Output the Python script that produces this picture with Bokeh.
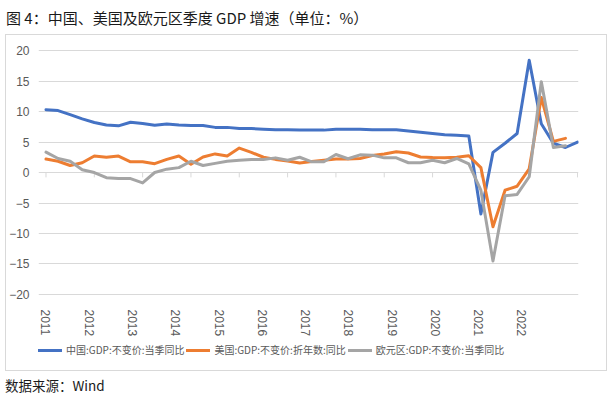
import math
from bokeh.plotting import figure
from bokeh.layouts import column
from bokeh.models import (Range1d, FixedTicker, Legend, LegendItem, Div,
                          CustomJSTickFormatter, InlineStyleSheet)
from bokeh.embed import file_html
from bokeh.resources import INLINE

# ---- data: quarterly, 2011Q1 .. 2022Q1 ----
quarters = list(range(45))
china = [10.3, 10.15, 9.5, 8.8,
         8.2, 7.8, 7.65, 8.25,
         8.05, 7.75, 7.95, 7.8,
         7.7, 7.7, 7.4, 7.4,
         7.2, 7.2, 7.1, 7.0,
         7.0, 6.95, 6.95, 6.95,
         7.1, 7.1, 7.1, 7.0,
         7.0, 7.0, 6.8, 6.6,
         6.4, 6.2, 6.1, 6.0,
         -6.8, 3.3, 4.8, 6.4,
         18.4, 8.0, 4.8, 4.1,
         5.0]
usa = [2.2, 1.85, 1.15, 1.6,
       2.7, 2.5, 2.7, 1.75,
       1.75, 1.45, 2.15, 2.7,
       1.35, 2.55, 3.05, 2.7,
       4.0, 3.3, 2.5, 2.15,
       1.9, 1.55, 1.8, 2.0,
       2.2, 2.2, 2.3, 2.8,
       3.05, 3.4, 3.2, 2.55,
       2.45, 2.4, 2.5, 2.75,
       0.8, -8.9, -2.9, -2.25,
       0.6, 12.3, 5.1, 5.6]
euro = [3.35, 2.3, 1.85, 0.45,
        0.0, -0.85, -1.0, -1.0,
        -1.7, 0.0, 0.55, 0.8,
        1.85, 1.15, 1.5, 1.85,
        2.0, 2.15, 2.15, 2.4,
        2.0, 2.5, 1.75, 1.75,
        2.95, 2.25, 2.9, 2.85,
        2.4, 2.4, 1.6, 1.6,
        2.0, 1.6, 2.3, 1.4,
        -2.9, -14.5, -3.8, -3.6,
        -0.7, 14.9, 4.1, 4.4]
year_labels = [str(y) for y in range(2011, 2023)]
y_ticks = [-20, -15, -10, -5, 0, 5, 10, 15, 20]
series_names = ["中国:GDP:不变价:当季同比", "美国:GDP:不变价:折年数:同比", "欧元区:GDP:不变价:当季同比"]
title_text = "图 4：中国、美国及欧元区季度 GDP 增速（单位：%）"
source_text = "数据来源：Wind"

colors = ["#4472C4", "#ED7D31", "#A5A5A5"]
CJK = "Noto Sans CJK SC"

# ---- layout ----
FW, FH = 540, 322          # frame: plot area + strip below it for year labels and legend
label_step = 39.4 / 11     # spacing of year labels in quarter units
y_low = -20.17 - 76 / 6.1  # extra room below -20 for the year labels and legend

box_css = InlineStyleSheet(css=""":host::after {
  content: ""; position: absolute; left: 0px; top: 0px; width: 602px; height: 337px;
  border: 1px solid #d9d9d9; box-sizing: border-box; pointer-events: none;
}""")

title_div = Div(text=f'<div style="padding:8px 0 0 6px; font-size:15px; line-height:20px; '
                     f'font-family:\'{CJK}\'; color:#1a1a1a; white-space:nowrap;">{title_text}</div>',
                width=615, height=34, margin=0)
source_div = Div(text=f'<div style="padding:4px 0 0 5px; font-size:13.5px; line-height:20px; '
                      f'font-family:\'{CJK}\'; color:#1a1a1a; white-space:nowrap;">{source_text}</div>',
                 width=615, height=24, margin=0)

p = figure(frame_width=FW, frame_height=FH, output_backend="svg", toolbar_location=None,
           x_range=Range1d(-0.62, 44.08), y_range=Range1d(y_low, 20.17),
           min_border_left=33, min_border_right=29,
           min_border_top=15, min_border_bottom=0,
           margin=(0, 0, 0, 5), stylesheets=[box_css])
p.outline_line_color = None
p.background_fill_color = "white"
p.border_fill_color = "white"

p.xgrid.visible = False
p.ygrid.ticker = FixedTicker(ticks=y_ticks)
p.ygrid.grid_line_color = "#d9d9d9"
p.ygrid.grid_line_width = 1

p.yaxis.ticker = FixedTicker(ticks=y_ticks)
p.yaxis.axis_line_color = None
p.yaxis.major_tick_line_color = None
p.yaxis.minor_tick_line_color = None
p.yaxis.major_label_text_font_size = "12px"
p.yaxis.major_label_text_color = "#595959"
p.yaxis.major_label_text_font = "Liberation Sans"
p.yaxis.major_label_standoff = 3

p.xaxis.fixed_location = -20.17
p.xaxis.ticker = FixedTicker(ticks=[i * label_step for i in range(len(year_labels))])
p.xaxis.formatter = CustomJSTickFormatter(args=dict(labels=year_labels, step=label_step),
                                          code="return labels[Math.round(tick/step)];")
p.xaxis.axis_line_color = None
p.xaxis.major_tick_line_color = None
p.xaxis.minor_tick_line_color = None
p.xaxis.major_label_orientation = -math.pi / 2
p.xaxis.major_label_text_font_size = "12px"
p.xaxis.major_label_text_color = "#595959"
p.xaxis.major_label_text_font = "Liberation Sans"
p.xaxis.major_label_standoff = 8

# small tick marks on the zero line, one per year (every 4 quarters)
tick_q = quarters[::4]
p.segment(x0=tick_q, y0=[0] * len(tick_q), x1=tick_q, y1=[-0.8] * len(tick_q),
          line_color="#d9d9d9", line_width=1)

renderers = []
for data, c in zip([china, usa, euro], colors):
    r = p.line(quarters[:len(data)], data, line_color=c, line_width=3,
               line_join="round", line_cap="round")
    renderers.append(r)

legend = Legend(items=[LegendItem(label=n, renderers=[r]) for n, r in zip(series_names, renderers)],
                orientation="horizontal", location=(0, 14),
                glyph_width=24, glyph_height=12, label_height=12,
                label_standoff=4, spacing=2, padding=0, margin=0,
                border_line_color=None, background_fill_alpha=0,
                label_text_font_size="10px", label_text_color="#595959",
                label_text_font=CJK)
p.add_layout(legend)

layout = column(title_div, p, source_div, spacing=0)
open("out.html", "w").write(file_html(layout, INLINE))
